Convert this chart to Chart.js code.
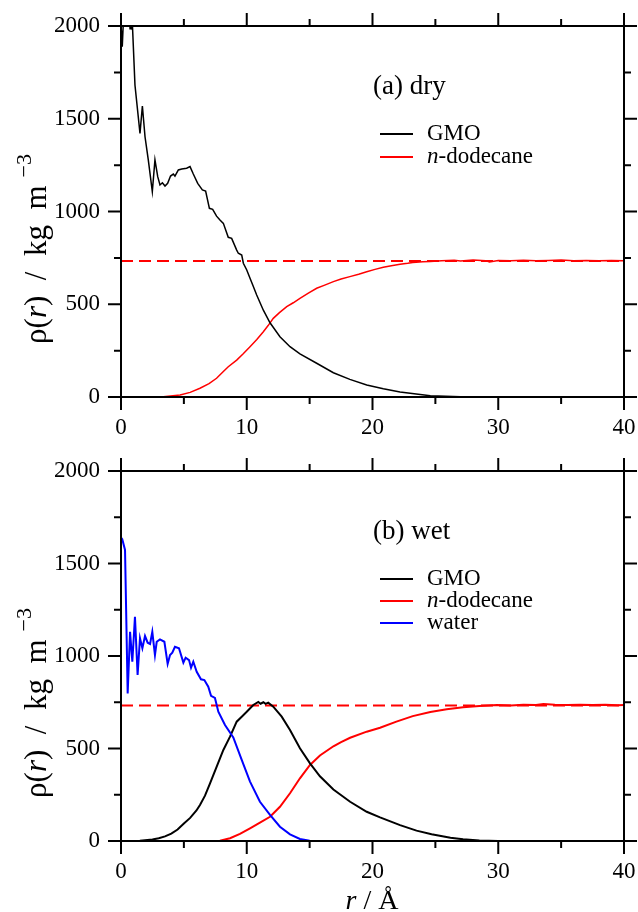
<!DOCTYPE html>
<html>
<head>
<meta charset="utf-8">
<script src="https://cdn.jsdelivr.net/npm/chart.js@4"></script>
<style>
    body { margin: 0; background: #fff; }
    .panel { position: absolute; left: 0; width: 638px; height: 456px; }
</style>
</head>
<body>
<div class="panel" style="top:0"><canvas id="dry" width="638" height="456"></canvas></div>
<div class="panel" style="top:456px"><canvas id="wet" width="638" height="456"></canvas></div>
<script>
// (a) dry
const dryGmoR = [0, 0.1, 0.3, 0.5, 0.66, 0.72, 0.78, 0.84, 0.9, 1.11, 1.51, 1.7, 1.91, 2.17, 2.49, 2.7, 2.92, 3.1, 3.29, 3.5, 3.71, 3.94, 4.16, 4.29, 4.56, 4.83, 5.22, 5.49, 5.75, 6.1, 6.47, 6.73, 7.03, 7.29, 7.6, 7.87, 8.14, 8.53, 8.8, 9.2, 9.33, 9.6, 9.73, 10.0, 10.26, 10.5, 10.79, 11.32, 11.85, 12.64, 13.44, 14.23, 15.56, 16.89, 18.2, 19.54, 20.86, 22.19, 24.6, 27, 30, 40];
const dryGmoRho = [2010, 1888, 2200, 2250, 2080, 1985, 1995, 1988, 2020, 1682, 1421, 1569, 1403, 1278, 1107, 1278, 1188, 1143, 1155, 1137, 1152, 1191, 1202, 1191, 1224, 1229, 1233, 1242, 1202, 1152, 1116, 1110, 1017, 1012, 975, 954, 936, 861, 855, 792, 775, 765, 721, 685, 640, 600, 550, 468, 400, 325, 271, 232, 182, 131, 95, 65, 45, 27, 7, 2, 0, 0];

const dryDodR = [0, 3.37, 4.7, 5.5, 6.28, 7.0, 7.6, 8.1, 8.53, 9.2, 9.7, 10.26, 10.8, 11.32, 11.7, 12.11, 12.6, 13.18, 13.7, 14.23, 14.9, 15.56, 16.2, 16.89, 17.5, 18.2, 18.9, 19.54, 20.2, 20.86, 21.5, 22.19, 22.8, 23.2, 24, 24.6, 25.5, 26.5, 27, 28, 29, 29.3, 30, 31, 32, 33, 34, 35, 36, 37, 38, 39, 40];
const dryDodRho = [0, 2, 11, 25, 47, 72, 101, 135, 163, 199, 232, 271, 310, 352, 385, 424, 455, 487, 508, 532, 560, 586, 603, 622, 636, 649, 662, 675, 688, 699, 708, 716, 721, 725, 729, 731, 734, 737, 733, 738, 735, 728, 736, 734, 737, 735, 736, 738, 735, 736, 734, 736, 735];

// (b) wet
const wetGmoR = [0, 1.5, 2.5, 3, 3.5, 4, 4.5, 5, 5.5, 6, 6.28, 6.68, 7.08, 7.61, 8.14, 8.67, 9.2, 9.6, 10.0, 10.52, 10.92, 11.1, 11.32, 11.5, 11.71, 12.11, 12.78, 13.44, 14.23, 15.03, 15.82, 16.89, 18.22, 19.54, 20.6, 22.19, 23.5, 24.7, 26.2, 27.2, 28.5, 30, 40];
const wetGmoRho = [0, 2, 8, 15, 25, 40, 62, 95, 125, 165, 195, 245, 312, 402, 492, 564, 645, 672, 699, 735, 752, 742, 750, 741, 748, 726, 672, 600, 501, 420, 350, 278, 212, 158, 128, 86, 56, 37, 17, 9, 3, 0, 0];

const wetDodR = [0, 6.28, 7.87, 8.67, 9.46, 10.26, 11.05, 11.85, 12.64, 13.44, 14.23, 15.03, 15.82, 16.89, 17.5, 18.22, 19.54, 20.6, 21.9, 23.2, 24.6, 25.9, 27.2, 28.5, 29.9, 31, 32, 33, 33.6, 34.5, 35.5, 36.5, 37.5, 38.5, 39.5, 40];
const wetDodRho = [0, 0, 2, 15, 38, 68, 99, 131, 185, 258, 339, 411, 462, 512, 535, 558, 591, 612, 645, 675, 697, 712, 723, 730, 735, 733, 736, 735, 741, 736, 735, 737, 735, 736, 734, 735];

const wetWaterR = [0, 0.1, 0.32, 0.53, 0.72, 0.9, 1.11, 1.32, 1.51, 1.7, 1.91, 2.12, 2.31, 2.49, 2.7, 2.84, 3.1, 3.45, 3.71, 3.9, 4.08, 4.29, 4.61, 4.96, 5.14, 5.41, 5.57, 5.75, 6.02, 6.36, 6.63, 6.94, 7.16, 7.47, 7.74, 8.27, 8.93, 9.6, 10.26, 11.05, 11.85, 12.64, 13.44, 14.23, 15, 16];
const wetWaterRho = [1640, 1631, 1573, 798, 1131, 969, 1212, 897, 1096, 1042, 1108, 1072, 1065, 1131, 1005, 1077, 1090, 1077, 957, 1005, 1018, 1050, 1042, 964, 991, 978, 937, 969, 915, 874, 870, 834, 785, 773, 699, 627, 560, 438, 321, 212, 141, 77, 36, 11, 2, 0];

// bulk n-dodecane density (dashed)
const bulkR = [0, 40];
const bulkRho = [733, 733];

const xTicks = [0, 10, 20, 30, 40];
const yTicks = [0, 500, 1000, 1500, 2000];

const SERIF = '"Liberation Serif", "DejaVu Serif", serif';

function points(xs, ys) {
    return xs.map((x, i) => ({ x: x, y: ys[i] }));
}

function font(size, italic) {
    return (italic ? "italic " : "") + size + "px " + SERIF;
}

// draws a list of text runs [{t, it, size, dy}] starting at x, y
function drawRuns(ctx, runs, x, y) {
    runs.forEach((run) => {
        ctx.font = font(run.size, run.it);
        ctx.fillText(run.t, x, y + (run.dy || 0));
        x += ctx.measureText(run.t).width + (run.gap || 0);
    });
}

function runsWidth(ctx, runs) {
    return runs.reduce((w, run) => {
        ctx.font = font(run.size, run.it);
        return w + ctx.measureText(run.t).width + (run.gap || 0);
    }, 0);
}

const framePlugin = {
    id: "frame",
    afterDatasetsDraw(chart, args, opts) {
        const { ctx, chartArea: a } = chart;
        const x = chart.scales.x;
        const y = chart.scales.y;
        ctx.save();
        ctx.strokeStyle = "#000";
        ctx.lineWidth = 2;
        ctx.strokeRect(a.left, a.top, a.right - a.left, a.bottom - a.top);
        ctx.beginPath();
        for (let v = 0; v <= 40; v += 5) {
            const px = x.getPixelForValue(v);
            const len = v % 10 === 0 ? 13 : 7;
            ctx.moveTo(px, a.bottom);
            ctx.lineTo(px, a.bottom + len);
            ctx.moveTo(px, a.top);
            ctx.lineTo(px, a.top - len);
        }
        for (let v = 0; v <= 2000; v += 250) {
            const py = y.getPixelForValue(v);
            const len = v % 500 === 0 ? 13 : 7;
            ctx.moveTo(a.left, py);
            ctx.lineTo(a.left - len, py);
            ctx.moveTo(a.right, py);
            ctx.lineTo(a.right + len, py);
        }
        ctx.stroke();

        ctx.fillStyle = "#000";
        ctx.textBaseline = "middle";
        ctx.textAlign = "left";
        ctx.font = font(27, false);
        ctx.fillText(opts.label, 373, opts.labelY);

        opts.legend.forEach((item, i) => {
            const ly = opts.legendY + i * opts.legendStep;
            ctx.strokeStyle = item.color;
            ctx.lineWidth = 2;
            ctx.beginPath();
            ctx.moveTo(380, ly);
            ctx.lineTo(413, ly);
            ctx.stroke();
            drawRuns(ctx, item.runs, 427, ly);
        });

        // y axis title
        const yRuns = [
            { t: "ρ(", size: 31 },
            { t: "r", size: 31, it: true },
            { t: ")  /  kg  m", size: 31, gap: 8 },
            { t: "−3", size: 22, dy: -15 },
        ];
        ctx.save();
        ctx.translate(opts.yTitleX, opts.yTitleY);
        ctx.rotate(-Math.PI / 2);
        ctx.textBaseline = "alphabetic";
        drawRuns(ctx, yRuns, -runsWidth(ctx, yRuns) / 2, 0);
        ctx.restore();

        if (opts.xTitle) {
            const xRuns = [
                { t: "r", size: 28, it: true },
                { t: " / Å", size: 28 },
            ];
            ctx.textBaseline = "alphabetic";
            drawRuns(ctx, xRuns, 372 - runsWidth(ctx, xRuns) / 2, opts.xTitleY);
        }
        ctx.restore();
    },
};

function lineSet(xs, ys, color, width, dash) {
    return {
        data: points(xs, ys),
        borderColor: color,
        borderWidth: width,
        borderDash: dash || [],
        pointRadius: 0,
        tension: 0,
        fill: false,
    };
}

function makeChart(id, datasets, xHeight, padTop, frameOpts) {
    const ctx = document.getElementById(id);
    return new Chart(ctx, {
        type: "line",
        data: { datasets: datasets },
        options: {
            responsive: false,
            animation: false,
            layout: { padding: { top: padTop, right: 14, left: 0, bottom: 0 } },
            plugins: {
                legend: { display: false },
                tooltip: { enabled: false },
                frame: frameOpts,
            },
            scales: {
                x: {
                    type: "linear",
                    min: 0,
                    max: 40,
                    grid: { display: false, drawTicks: false },
                    border: { display: false },
                    afterBuildTicks: (scale) => {
                        scale.ticks = xTicks.map((v) => ({ value: v }));
                    },
                    afterFit: (scale) => {
                        scale.height = xHeight;
                        scale.paddingLeft = 0;
                        scale.paddingRight = 0;
                    },
                    ticks: {
                        color: "#000",
                        padding: 17,
                        maxRotation: 0,
                        font: { family: SERIF, size: 23 },
                        callback: (value) => String(value),
                    },
                },
                y: {
                    type: "linear",
                    min: 0,
                    max: 2000,
                    grid: { display: false, drawTicks: false },
                    border: { display: false },
                    afterBuildTicks: (scale) => {
                        scale.ticks = yTicks.map((v) => ({ value: v }));
                    },
                    afterFit: (scale) => {
                        scale.width = 121;
                        scale.paddingTop = 0;
                        scale.paddingBottom = 0;
                    },
                    ticks: {
                        color: "#000",
                        padding: 21,
                        font: { family: SERIF, size: 23 },
                        callback: (value) => String(value),
                    },
                },
            },
        },
        plugins: [framePlugin],
    });
}

const dodRuns = [
    { t: "n", size: 23, it: true },
    { t: "-dodecane", size: 23 },
];

makeChart(
    "dry",
    [
        lineSet(dryGmoR, dryGmoRho, "#000", 1.5),
        lineSet(dryDodR, dryDodRho, "#ff0000", 1.5),
        lineSet(bulkR, bulkRho, "#ff0000", 2, [12, 6]),
    ],
    59,
    26,
    {
        label: "(a) dry",
        labelY: 87,
        legendY: 134,
        legendStep: 23,
        legend: [
            { color: "#000", runs: [{ t: "GMO", size: 23 }] },
            { color: "#ff0000", runs: dodRuns },
        ],
        yTitleX: 46,
        yTitleY: 249,
        xTitle: false,
    }
);

makeChart(
    "wet",
    [
        lineSet(wetWaterR, wetWaterRho, "#0000ff", 2),
        lineSet(wetGmoR, wetGmoRho, "#000", 2),
        lineSet(wetDodR, wetDodRho, "#ff0000", 2),
        lineSet(bulkR, bulkRho, "#ff0000", 2, [12, 6]),
    ],
    71,
    15,
    {
        label: "(b) wet",
        labelY: 76,
        legendY: 123,
        legendStep: 22,
        legend: [
            { color: "#000", runs: [{ t: "GMO", size: 23 }] },
            { color: "#ff0000", runs: dodRuns },
            { color: "#0000ff", runs: [{ t: "water", size: 23 }] },
        ],
        yTitleX: 46,
        yTitleY: 247,
        xTitle: true,
        xTitleY: 453,
    }
);
</script>
</body>
</html>
